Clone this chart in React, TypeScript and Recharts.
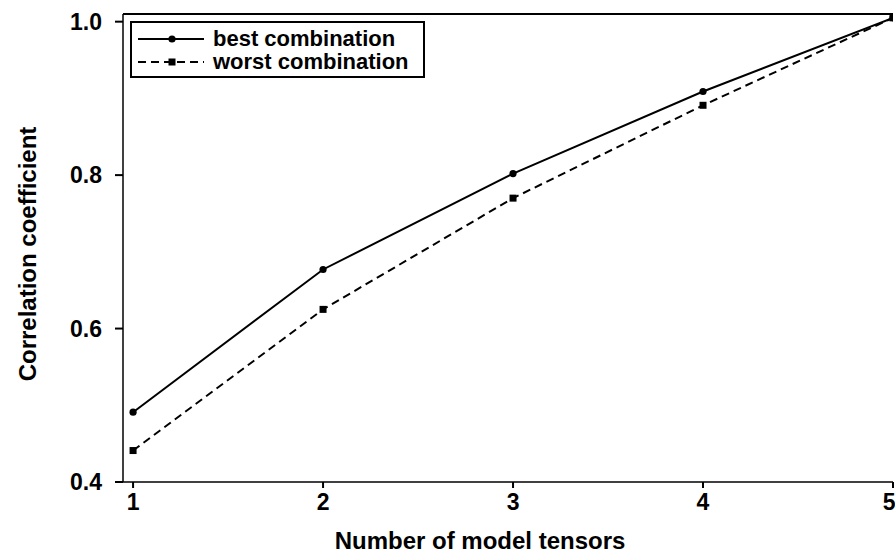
import React from "react";
import { LineChart, Line, XAxis, YAxis, ReferenceLine } from "recharts";

const xValues = [1, 2, 3, 4, 5];
const bestCombination = [0.491, 0.677, 0.802, 0.909, 1.005];
const worstCombination = [0.441, 0.625, 0.77, 0.891, 1.005];
const yTicks = [0.4, 0.6, 0.8, 1.0];
const xTicks = [1, 2, 3, 4, 5];
const X_DOMAIN: [number, number] = [0.947, 5];
const Y_DOMAIN: [number, number] = [0.4, 1.01];

const data = xValues.map((x, i) => ({
  x,
  best: bestCombination[i],
  worst: worstCombination[i],
}));

const FONT = '"Liberation Sans", Arial, Helvetica, sans-serif';

const SquareDot = (props: any) => {
  const { cx, cy, index } = props;
  if (cx == null || cy == null) return <g key={`sq-${index}`} />;
  return <rect key={`sq-${index}`} x={cx - 3.5} y={cy - 3.5} width={7} height={7} fill="#000" />;
};

const CircleDot = (props: any) => {
  const { cx, cy, index } = props;
  if (cx == null || cy == null) return <g key={`ci-${index}`} />;
  return <circle key={`ci-${index}`} cx={cx} cy={cy} r={3.6} fill="#000" />;
};

const tickStyle = { fill: "#000", fontSize: 23, fontWeight: 700, fontFamily: FONT };

export default function App() {
  return (
    <div style={{ position: "absolute", left: 0, top: 0, width: 895, height: 552, background: "#fff", fontFamily: FONT }}>
      <LineChart
        width={895}
        height={552}
        data={data}
        margin={{ top: 14, right: 2, bottom: 0, left: 0 }}
      >
        <XAxis
          dataKey="x"
          type="number"
          domain={X_DOMAIN}
          ticks={xTicks}
          allowDataOverflow
          height={70}
          stroke="#000"
          strokeWidth={1.5}
          tickSize={6}
          tickMargin={6}
          tick={tickStyle}
          tickLine={{ stroke: "#000", strokeWidth: 2 }}
          label={{
            content: () => (
              <text x={480} y={540} textAnchor="middle" dominantBaseline="central" fill="#000" fontSize={24} fontWeight={700} fontFamily={FONT}>
                Number of model tensors
              </text>
            ),
          }}
        />
        <YAxis
          type="number"
          domain={Y_DOMAIN}
          ticks={yTicks}
          allowDataOverflow
          width={123}
          stroke="#000"
          strokeWidth={1.5}
          tickSize={8}
          tickMargin={13}
          tick={tickStyle}
          tickLine={{ stroke: "#000", strokeWidth: 2 }}
          tickFormatter={(v: number) => v.toFixed(1)}
          label={{
            content: () => (
              <text x={27} y={254} transform="rotate(-90, 27, 254)" textAnchor="middle" dominantBaseline="central" fill="#000" fontSize={24} fontWeight={700} fontFamily={FONT}>
                Correlation coefficient
              </text>
            ),
          }}
        />
        <ReferenceLine y={Y_DOMAIN[1]} stroke="#000" strokeWidth={2} ifOverflow="visible" />
        <Line
          type="linear"
          dataKey="best"
          stroke="#000"
          strokeWidth={2}
          dot={CircleDot}
          activeDot={false}
          isAnimationActive={false}
        />
        <Line
          type="linear"
          dataKey="worst"
          stroke="#000"
          strokeWidth={2}
          strokeDasharray="8 5"
          dot={SquareDot}
          activeDot={false}
          isAnimationActive={false}
        />
      </LineChart>
      <div
        style={{
          position: "absolute",
          left: 130,
          top: 21,
          width: 295,
          height: 57,
          border: "2px solid #000",
          boxSizing: "border-box",
          fontSize: 22,
          fontWeight: 700,
          color: "#000",
          lineHeight: "22px",
        }}
      >
        <div style={{ position: "absolute", left: 6, top: 5, display: "flex", alignItems: "center", height: 22 }}>
          <svg width={66} height={12} style={{ marginRight: 9 }}>
            <line x1={0} y1={6} x2={66} y2={6} stroke="#000" strokeWidth={2} />
            <circle cx={34} cy={6} r={3.6} fill="#000" />
          </svg>
          <span>best combination</span>
        </div>
        <div style={{ position: "absolute", left: 6, top: 28, display: "flex", alignItems: "center", height: 22 }}>
          <svg width={66} height={12} style={{ marginRight: 9 }}>
            <line x1={0} y1={6} x2={66} y2={6} stroke="#000" strokeWidth={2} strokeDasharray="8 5" />
            <rect x={30.5} y={2.5} width={7} height={7} fill="#000" />
          </svg>
          <span>worst combination</span>
        </div>
      </div>
    </div>
  );
}
